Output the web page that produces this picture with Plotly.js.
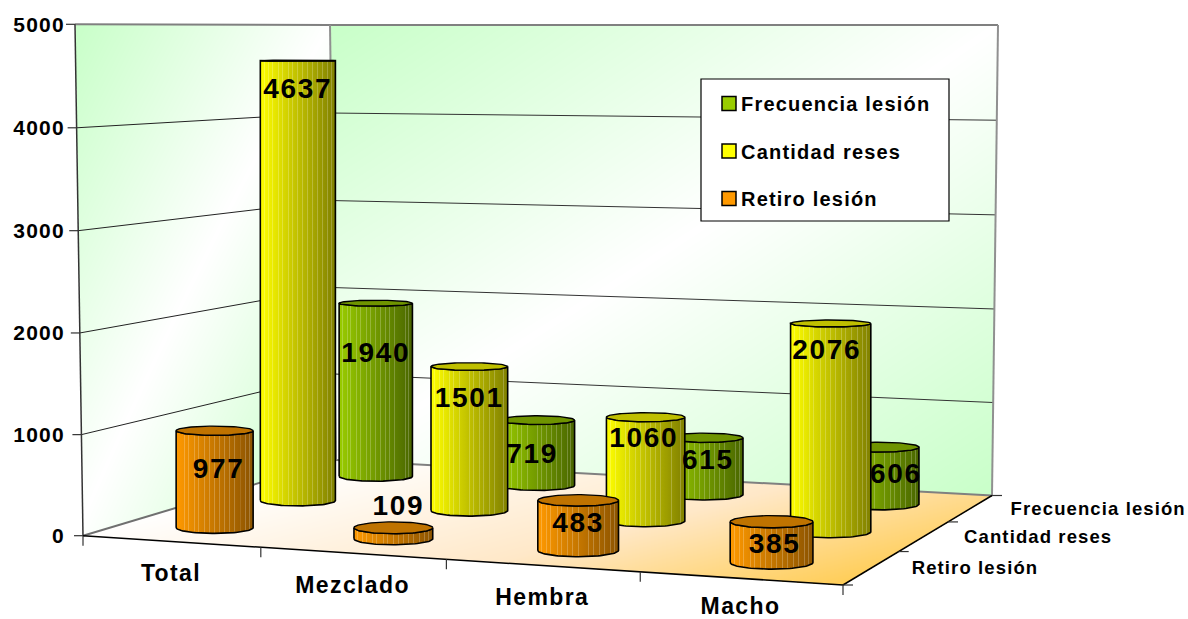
<!DOCTYPE html>
<html><head><meta charset="utf-8">
<script src="https://cdn.plot.ly/plotly-3.0.1.min.js"></script>
<style>
html,body{margin:0;padding:0;background:#fff}
#chart{width:1188px;height:619px}
svg text{letter-spacing:.06em}
.legendsymbols{transform:translateX(8px)}
</style></head><body><div id="chart"></div>
<script>
// ---- data ----
const categories = ['Total','Mezclado','Hembra','Macho'];
const seriesNames = ['Retiro lesión','Cantidad reses','Frecuencia lesión'];
const retiroLesion = [977,109,483,385];
const cantidadReses = [4637,1501,1060,2076];
const frecuenciaLesion = [1940,719,615,606];
const valueTicks = [0,1000,2000,3000,4000,5000];

// ---- styling ----
const baseColors = ['#FF9900','#FFFF00','#99CC00'];
const darkColors = ['#8C5400','#808000','#4A6600'];
const capColors  = ['#BF7300','#BFBF00','#6F9400'];
const cylinderShift = [[-2.5,-1,-1,-0.5],[-4,-1.5,-1,1],[-2,-2,-2,-1]];
const labelDx = [[4,5,0,3],[0,0,-2,-4],[0,-5,3,16]];
const labelDy = [[40,-20,25,24],[30,33,23,29],[52,36,24,29]];
const categoryDrop = [34,34,34,30];
const stripeStops = [.05,.11,.16,.24,.29,.37,.43,.5,.56,.63,.69,.76,.83,.9,.95];
const FONT = 'Liberation Sans, Arial, sans-serif';

// ---- scene frame in pixels ----
const floorQuad = [[83,535.7],[843,585],[992,495.5],[336,460]];
const topQuad   = [[75,24.3],[849,24.3],[998,25],[330,25]];
const PX_PER_UNIT = 0.10228, Y0 = 535.7;
const toY = py => (Y0-py)/PX_PER_UNIT;
// slight perspective of the value scale
const warp = v => { const k=v/5000; return k-.0037*4*k*(1-k); };

function quadMap(q){
  const [[x0,y0],[x1,y1],[x2,y2],[x3,y3]] = q;
  const dx1=x1-x2,dx2=x3-x2,sx=x0-x1+x2-x3,dy1=y1-y2,dy2=y3-y2,sy=y0-y1+y2-y3;
  const den=dx1*dy2-dx2*dy1, g=(sx*dy2-dx2*sy)/den, h=(dx1*sy-sx*dy1)/den;
  const a=x1-x0+g*x1,b=x3-x0+h*x3,d=y1-y0+g*y1,e=y3-y0+h*y3;
  return (u,v)=>{const w=g*u+h*v+1;return [(a*u+b*v+x0)/w,(d*u+e*v+y0)/w];};
}
const floorMap=quadMap(floorQuad), topMap=quadMap(topQuad);
function project(c,s,v){
  const f=floorMap(c/4,s/3), t=topMap(c/4,s/3), k=warp(v);
  return [f[0]+(t[0]-f[0])*k, f[1]+(t[1]-f[1])*k];
}
const hex=h=>[1,3,5].map(i=>parseInt(h.substr(i,2),16));
const toHex=a=>'#'+a.map(n=>Math.round(n).toString(16).padStart(2,'0')).join('');
const mix=(a,b,t)=>{const A=hex(a),B=hex(b);return toHex(A.map((x,i)=>x+(B[i]-x)*t));};

const traces=[];

// ---- gradient surfaces: walls and floor ----
function inPoly(x,y,p){let r=false;for(let i=0,j=p.length-1;i<p.length;j=i++){
  if((p[i][1]>y)!==(p[j][1]>y)&&x<(p[j][0]-p[i][0])*(y-p[i][1])/(p[j][1]-p[i][1])+p[i][0])r=!r;}return r;}
const leftWall=[topQuad[0],topQuad[3],floorQuad[3],floorQuad[0]];
const backWall=[topQuad[3],topQuad[2],floorQuad[2],floorQuad[3]];
const gx=[],gy=[],gz=[];
for(let x=70;x<=1000;x++)gx.push(x);
for(let py=592;py>=20;py--){
  gy.push(toY(py));
  gz.push(gx.map(x=>{
    if(inPoly(x,py,floorQuad)){
      const t=.85*(x-83)/909+.45*(py-460)/126-.25;
      return Math.max(0,Math.min(1,t));
    }
    const wall=inPoly(x,py,leftWall)?[75,330,535.5,460]:inPoly(x,py,backWall)?[330,998,460,495.5]:null;
    if(!wall)return null;
    const u=(x-wall[0])/(wall[1]-wall[0]);
    const bottom=wall[2]+(wall[3]-wall[2])*u;
    const v=(py-24)/(bottom-24);
    return -Math.abs(u+v-1);
  }));
}
traces.push({type:'heatmap',x:gx,y:gy,z:gz,zmin:-1,zmax:1,showscale:false,hoverinfo:'skip',
  colorscale:[[0,'#C8FFC8'],[.5,'#FFFFFF'],[.75,'#FFE8C8'],[1,'#FFC73C']]});

// ---- frame lines ----
function line(pts,color,width){
  traces.push({type:'scatter',mode:'lines',x:pts.map(p=>p[0]),y:pts.map(p=>toY(p[1])),
    line:{color:color,width:width},showlegend:false,hoverinfo:'skip'});
}
valueTicks.forEach(v=>{
  const a=project(0,0,v),b=project(0,3,v),c=project(4,3,v);
  const major=(v===5000);
  line([[a[0]-9,a[1]],a],'#333',1.2);
  line([a,b],major?'#808080':(v===0?'#707070':'#222'),major||v===0?2:1);
  line([b,c],major?'#808080':(v===0?'#808080':'#333'),major||v===0?2:1);
});
line([project(0,3,0),project(0,3,5000)],'#909090',2);
line([project(4,3,0),project(4,3,5000)],'#909090',2);
line([project(0,0,0),project(0,0,5000)],'#333',1.5);
line([project(0,0,0),project(4,0,0)],'#000',1.5);
line([project(4,0,0),project(4,3,0)],'#000',1.5);
for(let c=0;c<=4;c++){const p=project(c,0,0);line([p,[p[0],p[1]+10]],'#333',1.2);}
for(let s=0;s<=3;s++){const p=project(4,s,0);line([p,[p[0]+10,p[1]]],'#333',1.2);}

// ---- cylinders, back series first ----
const RADIUS=.222;
const allValues=[retiroLesion,cantidadReses,frecuenciaLesion];
const minorRatio=py=>Math.max(.012,.00031*(py-45));
function stripes(i){
  const sc=[];const eps=.006;
  const col=t=>mix(baseColors[i],darkColors[i],t);
  sc.push([0,col(0)]);
  stripeStops.forEach(f=>{
    const l=mix(col(f),'#FFFFFF',.22);
    sc.push([f-eps,col(f-eps)],[f-eps+.0001,l],[f+eps-.0001,l],[f+eps,col(f+eps)]);
  });
  sc.push([1,col(1)]);
  return sc;
}
const labelTraces=[];
for(let si=2;si>=0;si--){
  const values=allValues[si];
  const lx=[],ly=[];
  values.forEach((val,ci)=>{
    const c=ci+.5,s=si+.5;
    const f=project(c,s,0),h=project(c,s,val);
    const xc=f[0]+cylinderShift[si][ci], yb=f[1]+1, yt=h[1]+1;
    const rx=.55*(project(c+RADIUS,s,0)[0]-project(c-RADIUS,s,0)[0])/2+17.3;
    const ryB=rx*minorRatio(yb),ryT=rx*minorRatio(yt);
    const N=48,sx=[],sy=[],cx=[],cy=[];
    for(let k=0;k<=N;k++){const a=Math.PI*k/N;   // front of the bottom rim
      sx.push(xc-rx*Math.cos(a));sy.push(toY(yb+ryB*Math.sin(a)));}
    for(let k=0;k<=N;k++){const a=Math.PI*k/N;   // back along the top rim
      sx.push(xc+rx*Math.cos(a));sy.push(toY(yt+ryT*Math.sin(a)));}
    sx.push(sx[0]);sy.push(sy[0]);
    for(let k=0;k<=2*N;k++){const a=Math.PI*k/N;
      cx.push(xc+rx*Math.cos(a));cy.push(toY(yt+ryT*Math.sin(a)));}
    traces.push({type:'scatter',mode:'lines',x:sx,y:sy,fill:'toself',
      fillgradient:{type:'horizontal',start:xc-rx,stop:xc+rx,colorscale:stripes(si)},
      line:{color:'#000',width:1.6},showlegend:false,hoverinfo:'skip'});
    traces.push({type:'scatter',mode:'lines',x:cx,y:cy,fill:'toself',fillcolor:capColors[si],
      line:{color:'#000',width:1.4},showlegend:false,hoverinfo:'skip'});
    lx.push(xc+labelDx[si][ci]);ly.push(toY(yt+labelDy[si][ci]));
  });
  labelTraces.push({type:'scatter',mode:'text',x:lx,y:ly,text:values.map(String),
    textposition:'middle center',textfont:{family:FONT,size:28,weight:700,color:'#000'},
    showlegend:false,hoverinfo:'skip'});
}
traces.push(...labelTraces);

// ---- category and series labels ----
traces.push({type:'scatter',mode:'text',
  x:categories.map((_,i)=>project(i+.5,0,0)[0]),
  y:categories.map((_,i)=>toY(project(i+.5,0,0)[1]+categoryDrop[i])),
  text:categories,textposition:'middle center',
  textfont:{family:FONT,size:23,weight:700,color:'#000'},showlegend:false,hoverinfo:'skip'});
traces.push({type:'scatter',mode:'text',
  x:seriesNames.map((_,i)=>project(4,i+.5,0)[0]+40),
  y:seriesNames.map((_,i)=>toY(project(4,i+.5,0)[1]+2)),
  text:seriesNames,textposition:'middle right',
  textfont:{family:FONT,size:18.5,weight:700,color:'#000'},showlegend:false,hoverinfo:'skip'});

// ---- legend keys ----
[2,1,0].forEach(i=>traces.push({type:'scatter',mode:'markers',x:[null],y:[null],name:seriesNames[i],
  legendgroup:'g'+i,marker:{symbol:'square',size:14,color:baseColors[i],line:{color:'#000',width:1.5}},hoverinfo:'skip'}));

const layout={
  width:1188,height:619,margin:{l:0,r:0,t:0,b:0},paper_bgcolor:'#fff',plot_bgcolor:'rgba(0,0,0,0)',
  xaxis:{range:[0,1188],visible:false,fixedrange:true},
  yaxis:{range:[toY(619),toY(0)],tickmode:'array',tickvals:valueTicks.map(v=>warp(v)*5000),ticktext:valueTicks.map(String),
    ticks:'',showgrid:false,zeroline:false,showline:false,anchor:'free',position:65/1188,side:'left',
    tickfont:{family:FONT,size:21,weight:700,color:'#000'},fixedrange:true},
  shapes:[{type:'rect',xref:'paper',yref:'paper',x0:701/1188,x1:949/1188,y0:1-221/619,y1:1-79/619,
    fillcolor:'#fff',line:{color:'#000',width:1.2}}],
  legend:{x:701/1188,y:1-84/619,xanchor:'left',yanchor:'top',bgcolor:'rgba(0,0,0,0)',borderwidth:0,
    traceorder:'grouped',tracegroupgap:18.5,font:{family:FONT,size:20,weight:700,color:'#000'},itemclick:false,itemdoubleclick:false},
  showlegend:true
};
Plotly.newPlot('chart',traces,layout,{displayModeBar:false,staticPlot:true});
</script></body></html>
